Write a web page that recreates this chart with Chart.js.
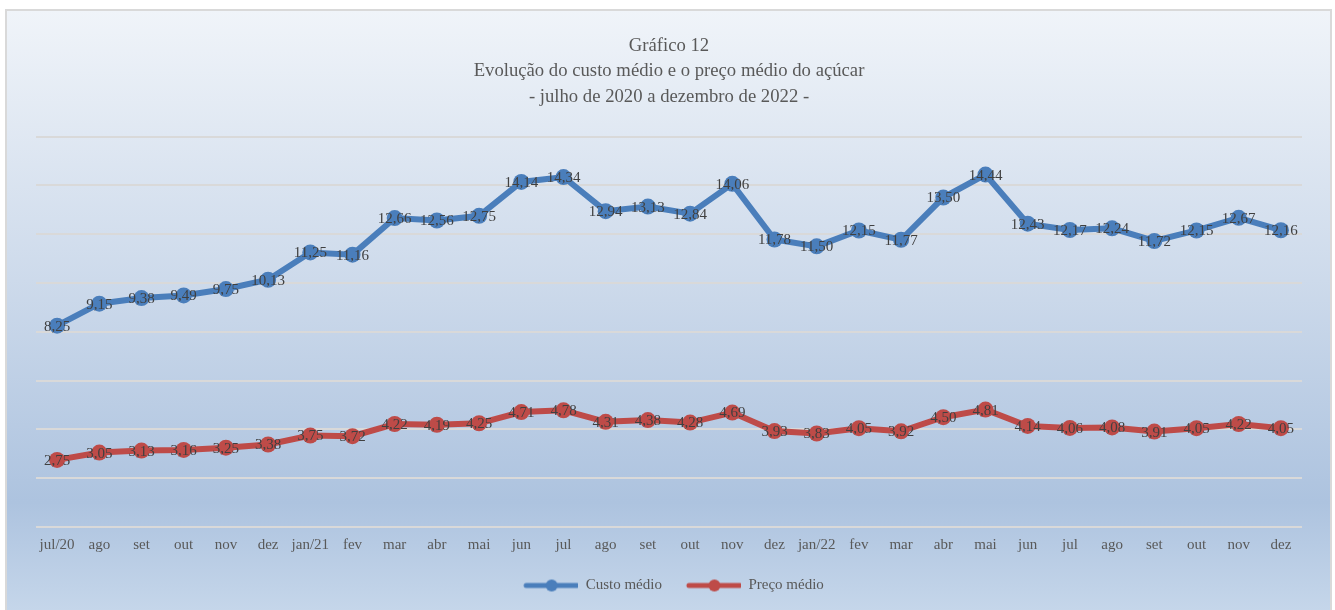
<!DOCTYPE html>
<html>
<head>
<meta charset="utf-8">
<script src="https://cdn.jsdelivr.net/npm/chart.js@4.4.1/dist/chart.umd.min.js"></script>
<style>
html,body{margin:0;padding:0;background:#ffffff;}
#wrap{position:absolute;left:0;top:0;width:1335px;height:610px;}
</style>
</head>
<body>
<div id="wrap"><canvas id="c" width="1335" height="610"></canvas></div>
<script>
const categories = ["jul/20","ago","set","out","nov","dez","jan/21","fev","mar","abr","mai","jun","jul","ago","set","out","nov","dez","jan/22","fev","mar","abr","mai","jun","jul","ago","set","out","nov","dez"];
const custoMedio = [8.25,9.15,9.38,9.49,9.75,10.13,11.25,11.16,12.66,12.56,12.75,14.14,14.34,12.94,13.13,12.84,14.06,11.78,11.50,12.15,11.77,13.50,14.44,12.43,12.17,12.24,11.72,12.15,12.67,12.16];
const precoMedio = [2.75,3.05,3.13,3.16,3.25,3.38,3.75,3.72,4.22,4.19,4.25,4.71,4.78,4.31,4.38,4.28,4.69,3.93,3.83,4.05,3.92,4.50,4.81,4.14,4.06,4.08,3.91,4.05,4.22,4.05];
const titleLines = ["Gráfico 12","Evolução do custo médio e o preço médio do açúcar","- julho de 2020 a dezembro de 2022 -"];
const yMin = 0, yMax = 16, yStep = 2;

const FONT = "'Liberation Serif', 'DejaVu Serif', serif";
const TXT = '#595959';
const BLUE = '#4a7ebb';
const RED = '#be4b48';

function legendIcon(color){
  const c = document.createElement('canvas');
  c.width = 64; c.height = 14;
  const x = c.getContext('2d');
  x.strokeStyle = color; x.lineWidth = 5; x.lineCap = 'round';
  x.beginPath(); x.moveTo(12,7); x.lineTo(63,7); x.stroke();
  x.fillStyle = color; x.beginPath(); x.arc(37.5,7,6,0,Math.PI*2); x.fill();
  return c;
}

const bgPlugin = {
  id:'bg',
  beforeDraw(chart){
    const ctx = chart.ctx;
    ctx.save();
    ctx.fillStyle = '#ffffff';
    ctx.fillRect(0,0,chart.width,chart.height);
    const g = ctx.createLinearGradient(0,10,0,610);
    g.addColorStop(0,'#f0f4f9');
    g.addColorStop(0.45,'#cddaeb');
    g.addColorStop(0.82,'#adc3df');
    g.addColorStop(1,'#c5d6ea');
    ctx.fillStyle = g;
    ctx.fillRect(6,10,1325,610);
    ctx.strokeStyle = '#d9d9d9';
    ctx.lineWidth = 2;
    ctx.strokeRect(6,10,1325,610);
    ctx.restore();
  }
};

const labelPlugin = {
  id:'vlabels',
  afterDatasetsDraw(chart){
    const ctx = chart.ctx;
    ctx.save();
    ctx.font = "15px " + FONT;
    ctx.fillStyle = '#404040';
    ctx.textAlign = 'center';
    ctx.textBaseline = 'middle';
    chart.data.datasets.forEach((ds,i)=>{
      const meta = chart.getDatasetMeta(i);
      meta.data.forEach((pt,j)=>{
        const v = ds.data[j];
        ctx.fillText(v.toFixed(2).replace('.',','), pt.x, pt.y+1);
      });
    });
    ctx.restore();
  }
};

new Chart(document.getElementById('c'), {
  type:'line',
  data:{
    labels: categories,
    datasets:[
      {label:'Custo médio', data: custoMedio, borderColor: BLUE, backgroundColor: BLUE,
       borderWidth:6, pointRadius:8, pointHoverRadius:8, pointBackgroundColor: BLUE, pointBorderWidth:0,
       pointStyle: 'circle', tension:0},
      {label:'Preço médio', data: precoMedio, borderColor: RED, backgroundColor: RED,
       borderWidth:6, pointRadius:8, pointHoverRadius:8, pointBackgroundColor: RED, pointBorderWidth:0,
       pointStyle: 'circle', tension:0}
    ]
  },
  options:{
    responsive:false,
    animation:false,
    devicePixelRatio:1,
    layout:{padding:{left:36,right:33,top:9,bottom:7}},
    plugins:{
      title:{display:true, text: titleLines, color: TXT,
        font:{family:FONT, size:18.7, weight:'normal', lineHeight:1.364},
        padding:{top:24,bottom:27}},
      legend:{display:true, position:'bottom',
        labels:{color: TXT, font:{family:FONT, size:15}, usePointStyle:true, pointStyleWidth:64,
          boxHeight:14, padding:15,
          generateLabels(chart){
            return chart.data.datasets.map((d,i)=>({
              text:d.label, fillStyle:d.borderColor, strokeStyle:d.borderColor,
              pointStyle: legendIcon(d.borderColor), lineWidth:0, datasetIndex:i, hidden:false, fontColor: TXT
            }));
          }}},
      tooltip:{enabled:false}
    },
    scales:{
      x:{offset:true, grid:{display:false, drawTicks:false}, border:{display:false},
        ticks:{color: TXT, font:{family:FONT, size:15}, padding:9, maxRotation:0, autoSkip:false}},
      y:{min:yMin, max:yMax, grid:{color:'#d9d9d9', lineWidth:2, drawTicks:false}, border:{display:false},
        ticks:{display:false, stepSize:yStep}}
    }
  },
  plugins:[bgPlugin, labelPlugin]
});
</script>
</body>
</html>
